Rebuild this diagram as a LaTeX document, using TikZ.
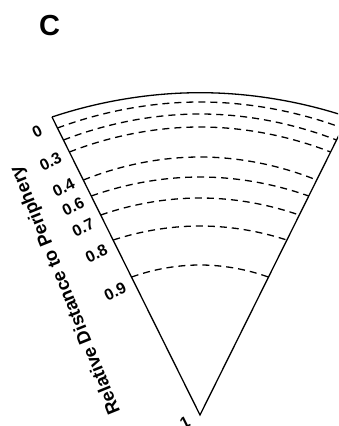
\documentclass[tikz,border=0pt]{standalone}
\usepackage{fontspec}
\setmainfont{Liberation Sans}
\usetikzlibrary{calc}

\begin{document}
\begin{tikzpicture}[x=1pt, y=-1pt,
    rim/.style={line width=1.3pt},
    ring/.style={line width=1.3pt, dash pattern=on 7pt off 5pt},
    ticklab/.style={font=\fontsize{16}{18}\selectfont\bfseries, rotate=26.5, inner sep=0pt},
    axislab/.style={font=\fontsize{18.5}{20}\selectfont\bfseries, rotate=112, inner sep=0pt}]
    \useasboundingbox (0,0) rectangle (338,426);
    \clip (0,0) rectangle (338,426);

    % Panel letter
    \node[font=\fontsize{29}{32}\selectfont\bfseries, inner sep=0pt] (panel) at (49.5,26) {C};

    % Fan outline
    \coordinate (apex) at (200,415);
    \coordinate (left) at (52,117);
    \coordinate (right) at (348,117);
    \draw[rim] (left) -- (apex) -- (right);
    \draw[rim] (left) parabola bend (200,92.7) (right);

    % Dashed rings
    \draw[ring] (57.5,128) parabola bend (200,102) (342.5,128);
    \draw[ring] (63.5,140) parabola bend (200,114) (336.5,140);
    \draw[ring] (69.4,152) parabola bend (200,127) (330.6,152);
    \draw[ring] (83.4,180) parabola bend (200,157) (316.6,180);
    \draw[ring] (91.3,196) parabola bend (200,177) (308.7,196);
    \draw[ring] (100.8,215) parabola bend (200,198) (299.2,215);
    \draw[ring] (113.3,240) parabola bend (200,226) (286.7,240);
    \draw[ring] (131.7,277) parabola bend (200,265) (268.3,277);

    % Tick labels along the left edge
    \node[ticklab] (lab0) at ($(left)!0.02!(apex)+(-17.9,8.9)$) {0};
    \node[ticklab] (lab3) at ($(left)!0.117!(apex)+(-18.8,9.4)$) {0.3};
    \node[ticklab] (lab4) at ($(left)!0.206!(apex)+(-18.8,9.4)$) {0.4};
    \node[ticklab] (lab6) at ($(left)!0.27!(apex)+(-18.8,9.4)$) {0.6};
    \node[ticklab] (lab7) at ($(left)!0.338!(apex)+(-18.8,9.4)$) {0.7};
    \node[ticklab] (lab8) at ($(left)!0.427!(apex)+(-18.8,9.4)$) {0.8};
    \node[ticklab] (lab9) at ($(left)!0.554!(apex)+(-18.8,9.4)$) {0.9};
    \node[ticklab] (lab10) at ($(left)!1!(apex)+(-15.2,7.6)$) {1};

    % Axis title
    \node[axislab] (axis) at (66,290) {Relative Distance to Periphery};

\end{tikzpicture}
\end{document}
